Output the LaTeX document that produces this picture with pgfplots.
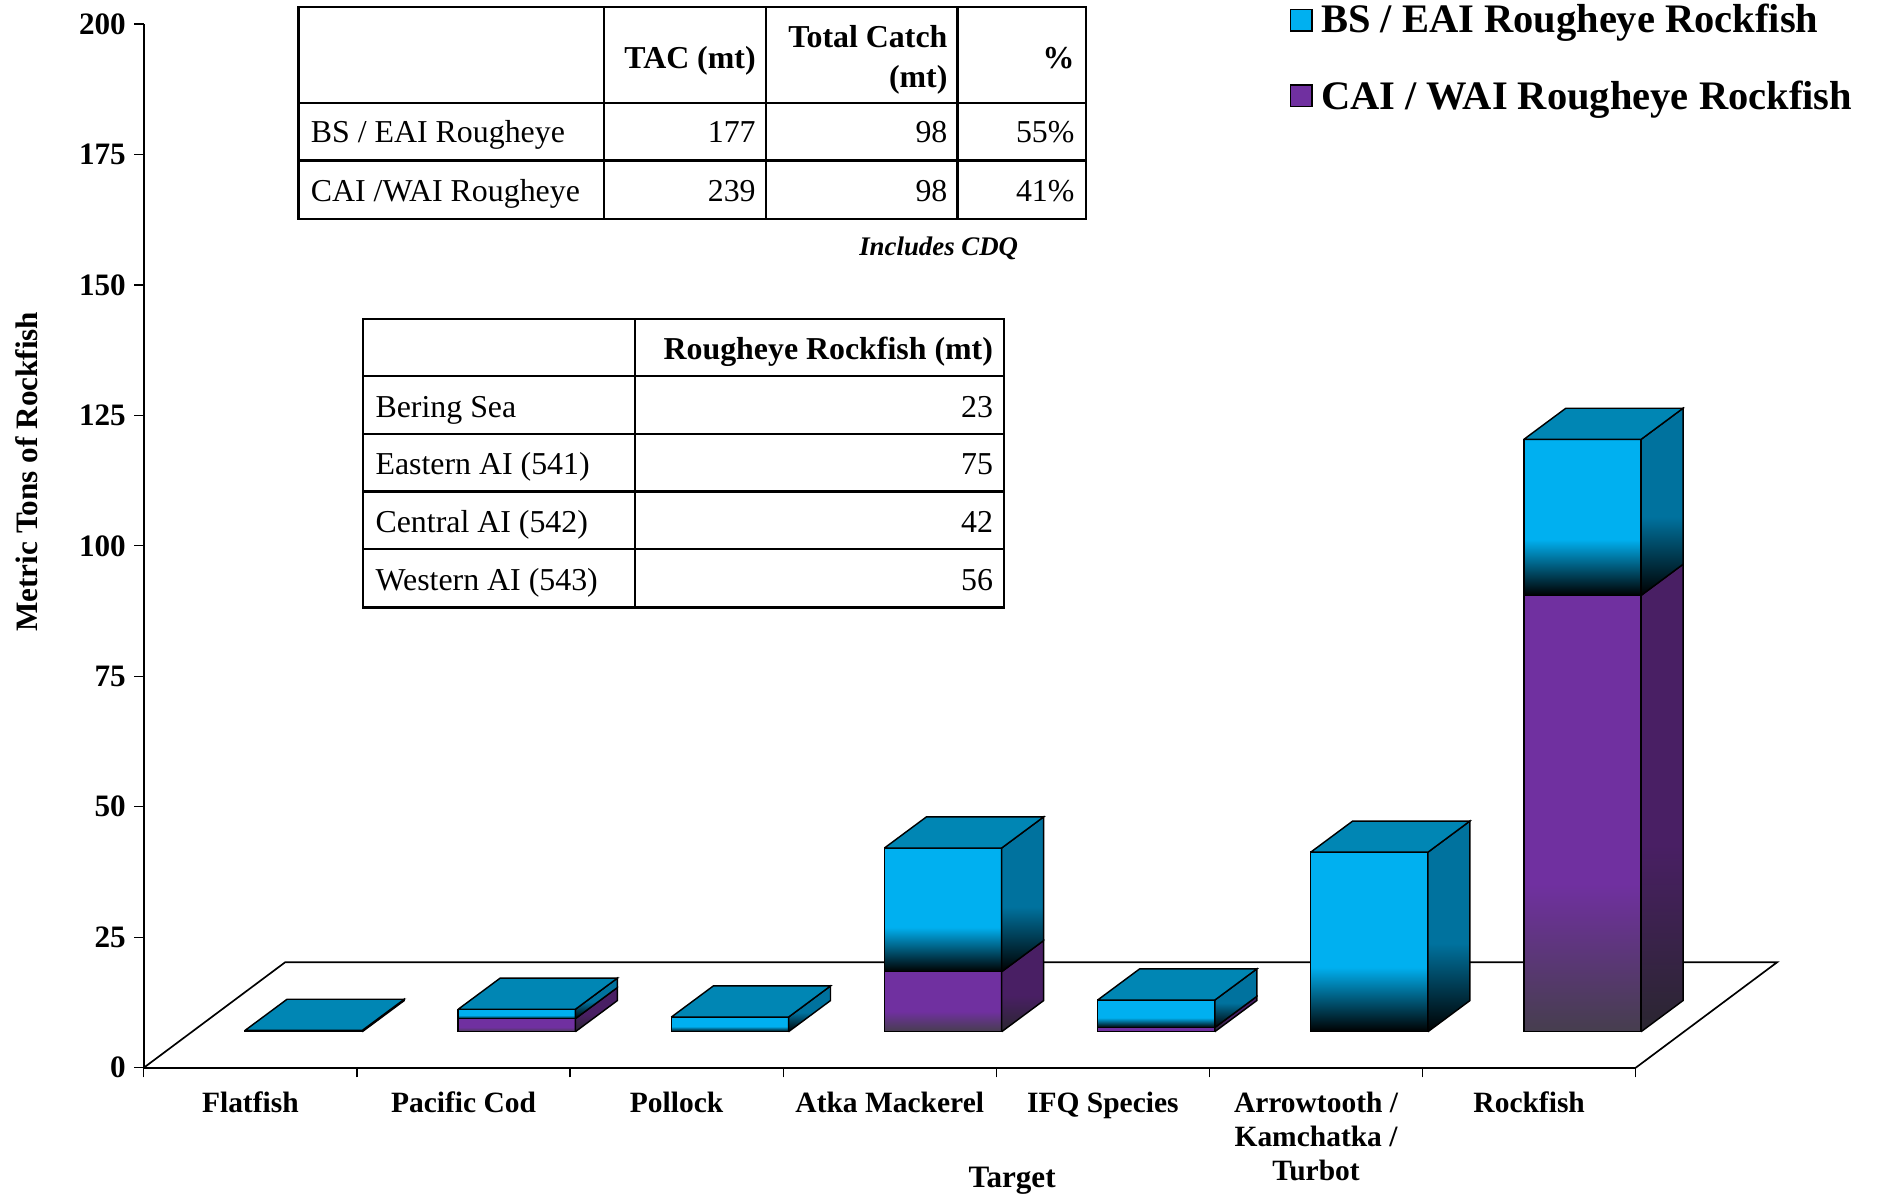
\documentclass[border=0pt]{standalone}
\usepackage{fontspec}
\setmainfont{Liberation Serif}
\usepackage{pgfplots}
\pgfplotsset{compat=1.18}

\definecolor{cyanF}{RGB}{0,176,240}
\definecolor{cyanS}{RGB}{0,114,158}
\definecolor{cyanT}{RGB}{0,134,180}
\definecolor{purF}{RGB}{112,48,160}
\definecolor{purS}{RGB}{73,31,100}
\definecolor{purB}{RGB}{70,62,78}
\definecolor{purSB}{RGB}{42,38,48}

\pgfdeclareverticalshading{bluefront}{100bp}{color(0bp)=(black); color(25bp)=(black); color(43bp)=(cyanF); color(100bp)=(cyanF)}
\pgfdeclareverticalshading{blueside}{100bp}{color(0bp)=(black); color(25bp)=(black); color(46bp)=(cyanS); color(100bp)=(cyanS)}
\pgfdeclareverticalshading{purfront}{100bp}{color(0bp)=(purB); color(25bp)=(purB); color(42bp)=(purF); color(100bp)=(purF)}
\pgfdeclareverticalshading{purside}{100bp}{color(0bp)=(purSB); color(25bp)=(purSB); color(45bp)=(purS); color(100bp)=(purS)}

% bar geometry (axis units)
\newcommand\bdx{0.197}
\newcommand\bdy{5.97}
\newcommand\bbase{6.9}

% #1 category index, #2 CAI/WAI value, #3 BS/EAI value
\newcommand{\threedbar}[3]{%
 \pgfmathsetmacro\xl{#1+0.475}%
 \pgfmathsetmacro\xr{#1+1.025}%
 \pgfmathsetmacro\xlb{\xl+\bdx}%
 \pgfmathsetmacro\xrb{\xr+\bdx}%
 \pgfmathsetmacro\ya{\bbase}%
 \pgfmathsetmacro\yb{\bbase+#2}%
 \pgfmathsetmacro\yc{\bbase+#2+#3}%
 \pgfmathsetmacro\yab{\ya+\bdy}%
 \pgfmathsetmacro\ybb{\yb+\bdy}%
 \pgfmathsetmacro\ycb{\yc+\bdy}%
 \ifdim #2pt>0pt
  \edef\temp{\noexpand\addplot[forget plot, draw=black, line width=0.6pt, shade, shading=purfront] coordinates {(\xl,\ya) (\xr,\ya) (\xr,\yb) (\xl,\yb) (\xl,\ya)};}\temp
  \edef\temp{\noexpand\addplot[forget plot, draw=black, line width=0.6pt, shade, shading=purside] coordinates {(\xr,\ya) (\xrb,\yab) (\xrb,\ybb) (\xr,\yb) (\xr,\ya)};}\temp
 \fi
 \edef\temp{\noexpand\addplot[forget plot, draw=black, line width=0.6pt, shade, shading=bluefront] coordinates {(\xl,\yb) (\xr,\yb) (\xr,\yc) (\xl,\yc) (\xl,\yb)};}\temp
 \edef\temp{\noexpand\addplot[forget plot, draw=black, line width=0.6pt, shade, shading=blueside] coordinates {(\xr,\yb) (\xrb,\ybb) (\xrb,\ycb) (\xr,\yc) (\xr,\yb)};}\temp
 \edef\temp{\noexpand\addplot[forget plot, draw=black, line width=0.6pt, fill=cyanT] coordinates {(\xl,\yc) (\xr,\yc) (\xrb,\ycb) (\xlb,\ycb) (\xl,\yc)};}\temp
}

\begin{document}
\begin{tikzpicture}
\path[use as bounding box] (-60pt,-52.5pt) rectangle (724pt,445.5pt);
\begin{axis}[
  scale only axis, width=622.5pt, height=435.5pt,
  xmin=0, xmax=7, ymin=0, ymax=200,
  clip=false,
  axis lines*=left,
  axis line style={line width=0.7pt},
  ytick={0,25,...,200},
  xtick={0.5,1.5,...,6.5},
  xticklabels={Flatfish, Pacific Cod, Pollock, Atka Mackerel, IFQ Species, {Arrowtooth /\\Kamchatka /\\Turbot}, Rockfish},
  minor xtick={0,...,7},
  major x tick style={draw=none},
  tick align=outside,
  major tick length=4pt, minor tick length=4pt,
  tick style={black, line width=0.5pt},
  /pgf/number format/assume math mode=true,
  yticklabel style={font=\fontsize{13}{15}\selectfont\bfseries},
  xticklabel style={font=\fontsize{12.3}{14.3}\selectfont\bfseries, align=center, yshift=-2.5pt},
  xlabel={Target}, ylabel={Metric Tons of Rockfish},
  label style={font=\fontsize{13}{15}\selectfont\bfseries},
  x label style={at={(axis description cs:0.582,-0.108)}, anchor=center, inner sep=0pt},
  y label style={at={(axis description cs:-0.0787,0.571)}, anchor=center, inner sep=0pt},
]
% floor
\addplot[forget plot, draw=black, line width=0.7pt] coordinates {(0,0) (0.663,20.2) (7.663,20.2) (7,0)};
% bars: index, CAI/WAI, BS/EAI
\threedbar{0}{0}{0.25}
\threedbar{1}{2.5}{1.8}
\threedbar{2}{0}{2.8}
\threedbar{3}{11.5}{23.7}
\threedbar{4}{0.8}{5.26}
\threedbar{5}{0}{34.4}
\threedbar{6}{83.6}{29.9}
\end{axis}

\begin{scope}[shift={(-60pt,445.5pt)}, x=0.5pt, y=-0.5pt]
 % legend
 \draw[fill=cyanF, line width=0.6pt] (1077,8) rectangle (1095,26);
 \node[anchor=base west, inner sep=0pt, font=\fontsize{16.9}{19}\selectfont\bfseries] at (1102,27) {BS / EAI Rougheye Rockfish};
 \draw[fill=purF, line width=0.6pt] (1077,71) rectangle (1095,89);
 \node[anchor=base west, inner sep=0pt, font=\fontsize{16.9}{19}\selectfont\bfseries] at (1102,91) {CAI / WAI Rougheye Rockfish};

 % table 1
 \draw[line width=1pt] (249,6) rectangle (906,183);
 \draw[line width=1pt] (249,86) -- (906,86) (249,134) -- (906,134);
 \draw[line width=1pt] (504,6) -- (504,183) (639,6) -- (639,183) (799,6) -- (799,183);
 \begin{scope}[every node/.style={inner sep=0pt, font=\fontsize{13.3}{16}\selectfont}]
  \node[anchor=base east, font=\fontsize{13.3}{16}\selectfont\bfseries] at (631,57) {TAC (mt)};
  \node[anchor=base east, font=\fontsize{13.3}{16}\selectfont\bfseries] at (791,40) {Total Catch};
  \node[anchor=base east, font=\fontsize{13.3}{16}\selectfont\bfseries] at (791,73) {(mt)};
  \node[anchor=base east, font=\fontsize{13.3}{16}\selectfont\bfseries] at (897,57) {\%};
  \node[anchor=base west] at (259,119) {BS / EAI Rougheye};
  \node[anchor=base east] at (631,119) {177};
  \node[anchor=base east] at (791,119) {98};
  \node[anchor=base east] at (897,119) {55\%};
  \node[anchor=base west] at (259,168) {CAI /WAI Rougheye};
  \node[anchor=base east] at (631,168) {239};
  \node[anchor=base east] at (791,168) {98};
  \node[anchor=base east] at (897,168) {41\%};
  \node[anchor=base east, font=\fontsize{11.2}{13}\selectfont\bfseries\itshape] at (850,213) {Includes CDQ};
 \end{scope}

 % table 2
 \draw[line width=1pt] (303,266) rectangle (838,507);
 \draw[line width=1pt] (303,314) -- (838,314) (303,362) -- (838,362) (303,410) -- (838,410) (303,458) -- (838,458);
 \draw[line width=1pt] (530,266) -- (530,507);
 \begin{scope}[every node/.style={inner sep=0pt, font=\fontsize{13.3}{16}\selectfont}]
  \node[anchor=base east, font=\fontsize{13.3}{16}\selectfont\bfseries] at (829,300) {Rougheye Rockfish (mt)};
  \node[anchor=base west] at (313,348) {Bering Sea};
  \node[anchor=base east] at (829,348) {23};
  \node[anchor=base west] at (313,396) {Eastern AI (541)};
  \node[anchor=base east] at (829,396) {75};
  \node[anchor=base west] at (313,444) {Central AI (542)};
  \node[anchor=base east] at (829,444) {42};
  \node[anchor=base west] at (313,493) {Western AI (543)};
  \node[anchor=base east] at (829,493) {56};
 \end{scope}
\end{scope}
\end{tikzpicture}
\end{document}
